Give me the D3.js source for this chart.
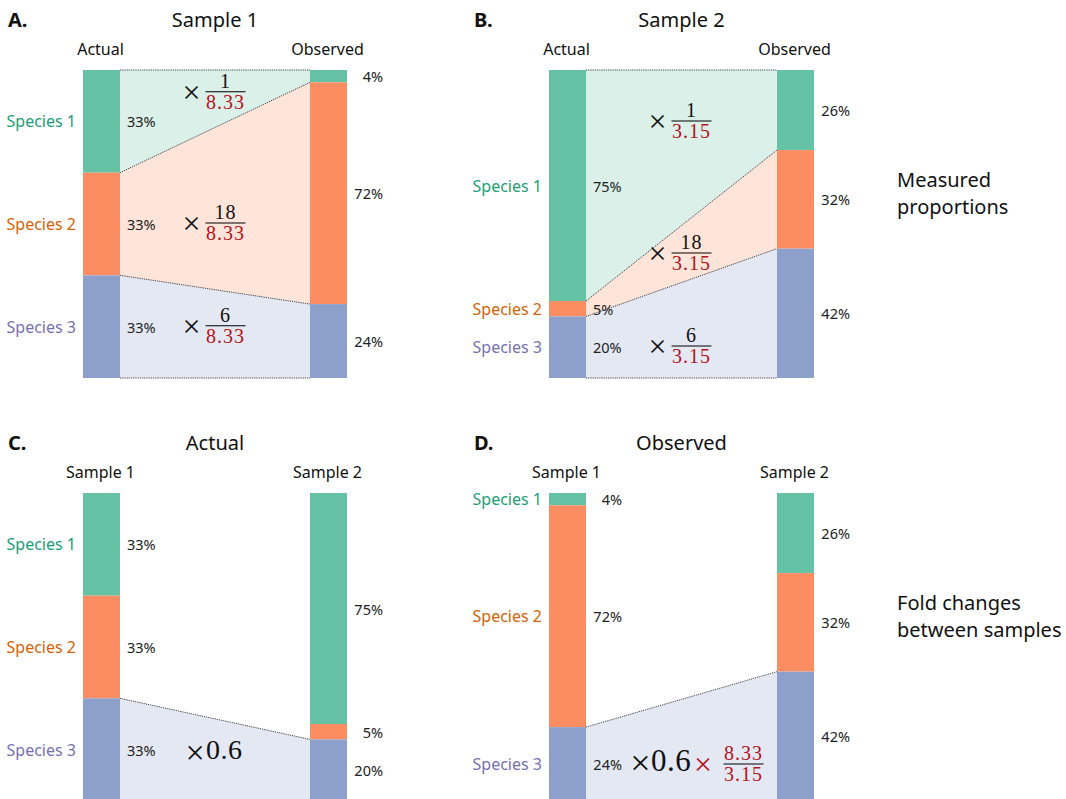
<!DOCTYPE html>
<html>
<head>
<meta charset="utf-8">
<script src="https://cdn.jsdelivr.net/npm/d3@7"></script>
<style>
  html, body { margin: 0; padding: 0; background: #fff; }
  svg { display: block; }
</style>
</head>
<body>
<svg id="chart" width="1066" height="799"></svg>
<script>
// ---- data ----
const species = ["Species 1", "Species 2", "Species 3"];
const actualSample1 = [33, 33, 33];
const actualSample2 = [75, 5, 20];
const observedSample1 = [4, 72, 24];
const observedSample2 = [26, 32, 42];
const efficiencies = [1, 18, 6];          // relative measurement efficiency per species
const meanEfficiency = ["8.33", "3.15"];  // sample-wise mean efficiency
const foldChange = "0.6";                 // actual fold change of Species 3
const sideNotes = [["Measured", "proportions"], ["Fold changes", "between samples"]];

// ---- styling ----
const barColors = ["#66c2a5", "#fc8d62", "#8da0cb"];
const nameColors = ["#1b9e77", "#d95f02", "#7570b3"];
const red = "#b5121b";
const sans = "'Noto Sans', 'Open Sans', sans-serif";
const serif = "'Liberation Serif', 'DejaVu Serif', serif";

const svg = d3.select("#chart");

const barW = 37, barH = 308;
const cols = [{ left: 83, right: 310, letterX: 8 }, { left: 549, right: 777, letterX: 474 }];
const rows = [{ top: 70, titleY: 27, headY: 55 }, { top: 493, titleY: 450, headY: 478 }];

const panels = [
  { letter: "A.", title: "Sample 1", col: 0, row: 0,
    bars: [{ name: "Actual", values: actualSample1 }, { name: "Observed", values: observedSample1 }],
    ribbons: [0, 1, 2], leftAlign: "start",
    fractions: { denom: meanEfficiency[0], ys: [21.7, 153, 255.7] } },
  { letter: "B.", title: "Sample 2", col: 1, row: 0,
    bars: [{ name: "Actual", values: actualSample2 }, { name: "Observed", values: observedSample2 }],
    ribbons: [0, 1, 2], leftAlign: "start",
    fractions: { denom: meanEfficiency[1], ys: [51, 183, 276] } },
  { letter: "C.", title: "Actual", col: 0, row: 1,
    bars: [{ name: "Sample 1", values: actualSample1 }, { name: "Sample 2", values: actualSample2 }],
    ribbons: [2], leftAlign: "start", fold: "actual" },
  { letter: "D.", title: "Observed", col: 1, row: 1,
    bars: [{ name: "Sample 1", values: observedSample1 }, { name: "Sample 2", values: observedSample2 }],
    ribbons: [2], leftAlign: "end", fold: "observed" }
];

// stacked segments [y0, y1] in pixel space for one bar
function segments(values, top) {
  const y = d3.scaleLinear().domain([0, d3.sum(values)]).range([top, top + barH]);
  const ends = d3.cumsum(values);
  return values.map((v, i) => ({ v, i, y0: y(ends[i] - v), y1: y(ends[i]) }));
}

// draws a stacked fraction centred at cx, with its bar at y
function fraction(g, cx, y, num, den, numColor, denColor, size) {
  g.append("line").attr("x1", cx - 20).attr("x2", cx + 20)
    .attr("y1", y).attr("y2", y).attr("stroke", "#000").attr("stroke-width", 1.1);
  g.append("text").attr("x", cx).attr("y", y - 4).attr("text-anchor", "middle")
    .attr("font-family", serif).attr("font-size", size).attr("letter-spacing", 1)
    .attr("fill", numColor).text(num);
  g.append("text").attr("x", cx).attr("y", y + 17).attr("text-anchor", "middle")
    .attr("font-family", serif).attr("font-size", size).attr("letter-spacing", 1)
    .attr("fill", denColor).text(den);
}

// multiplication sign centred at (cx, cy)
function times(g, cx, cy, size, color) {
  g.append("text").attr("x", cx).attr("y", cy).attr("text-anchor", "middle")
    .attr("dominant-baseline", "central")
    .attr("font-family", serif).attr("font-size", size)
    .attr("fill", color).text("\u00d7");
}

panels.forEach(p => {
  const c = cols[p.col], r = rows[p.row];
  const g = svg.append("g");
  const leftSeg = segments(p.bars[0].values, r.top);
  const rightSeg = segments(p.bars[1].values, r.top);
  const xL = c.left + barW, xR = c.right;

  // ribbons linking matching species between the two bars
  const line = d3.line();
  p.ribbons.forEach(i => {
    const a = leftSeg[i], b = rightSeg[i];
    g.append("path")
      .attr("d", line([[xL, a.y0], [xR, b.y0], [xR, b.y1], [xL, a.y1]]) + "Z")
      .attr("fill", barColors[i]).attr("fill-opacity", 0.24);
  });
  // dotted ribbon edges
  const edgeLines = [];
  p.ribbons.forEach((i, k) => {
    edgeLines.push([[xL, leftSeg[i].y0], [xR, rightSeg[i].y0]]);
    if (k === p.ribbons.length - 1)
      edgeLines.push([[xL, leftSeg[i].y1], [xR, rightSeg[i].y1]]);
  });
  edgeLines.forEach(l => {
    g.append("path").attr("d", line(l))
      .attr("fill", "none").attr("stroke", "#444").attr("stroke-width", 1)
      .attr("stroke-dasharray", "1.2,1");
  });

  // bars
  [[c.left, leftSeg], [c.right, rightSeg]].forEach(([x, segs]) => {
    g.selectAll(null).data(segs).join("rect")
      .attr("x", x).attr("width", barW)
      .attr("y", d => d.y0).attr("height", d => d.y1 - d.y0)
      .attr("fill", d => barColors[d.i]);
  });

  // species names
  g.selectAll(null).data(leftSeg).join("text")
    .attr("x", c.left - 7).attr("y", d => (d.y0 + d.y1) / 2)
    .attr("text-anchor", "end").attr("dominant-baseline", "central")
    .attr("font-family", sans).attr("font-size", 16)
    .attr("fill", d => nameColors[d.i]).text(d => species[d.i]);

  // percent labels
  g.selectAll(null).data(leftSeg).join("text")
    .attr("x", p.leftAlign === "start" ? xL + 7 : xL + 36)
    .attr("y", d => (d.y0 + d.y1) / 2)
    .attr("text-anchor", p.leftAlign).attr("dominant-baseline", "central")
    .attr("font-family", sans).attr("font-size", 14.5).attr("fill", "#222")
    .text(d => d.v + "%");
  g.selectAll(null).data(rightSeg).join("text")
    .attr("x", c.right + barW + 36).attr("y", d => (d.y0 + d.y1) / 2)
    .attr("text-anchor", "end").attr("dominant-baseline", "central")
    .attr("font-family", sans).attr("font-size", 14.5).attr("fill", "#222")
    .text(d => d.v + "%");

  // headings
  g.append("text").attr("x", c.letterX).attr("y", r.titleY)
    .attr("font-family", sans).attr("font-size", 20).attr("font-weight", "bold")
    .attr("fill", "#111").text(p.letter);
  g.append("text").attr("x", (c.left + c.right + barW) / 2).attr("y", r.titleY)
    .attr("text-anchor", "middle").attr("font-family", sans).attr("font-size", 20)
    .attr("fill", "#111").text(p.title);
  [c.left, c.right].forEach((x, k) => {
    g.append("text").attr("x", x + barW / 2 - 1).attr("y", r.headY)
      .attr("text-anchor", "middle").attr("font-family", sans).attr("font-size", 16)
      .attr("fill", "#111").text(p.bars[k].name);
  });

  // efficiency factors
  if (p.fractions) {
    p.fractions.ys.forEach((dy, i) => {
      const y = r.top + dy;
      times(g, c.left + 108.5, y, 32, "#111");
      fraction(g, c.left + 142.5, y, efficiencies[i], p.fractions.denom, "#111", red, 20);
    });
  }
  if (p.fold === "actual") {
    times(g, c.left + 112, 752, 34, "#111");
    g.append("text").attr("x", c.left + 123).attr("y", 759)
      .attr("font-family", serif).attr("font-size", 28).attr("letter-spacing", 0.5)
      .attr("fill", "#111").text(foldChange);
  }
  if (p.fold === "observed") {
    times(g, c.left + 91.5, 763, 36, "#111");
    g.append("text").attr("x", c.left + 102).attr("y", 771)
      .attr("font-family", serif).attr("font-size", 31).attr("letter-spacing", 0.5)
      .attr("fill", "#111").text(foldChange);
    times(g, c.left + 154, 764, 32, red);
    fraction(g, c.left + 194.5, 764, meanEfficiency[0], meanEfficiency[1], red, red, 20);
  }
});

// side notes
const noteY = [187, 610];
sideNotes.forEach((lines, k) => {
  const t = svg.append("text").attr("x", 897).attr("y", noteY[k])
    .attr("font-family", sans).attr("font-size", 20).attr("fill", "#111");
  lines.forEach((s, j) => t.append("tspan").attr("x", 897).attr("dy", j ? 27 : 0).text(s));
});
</script>
</body>
</html>
